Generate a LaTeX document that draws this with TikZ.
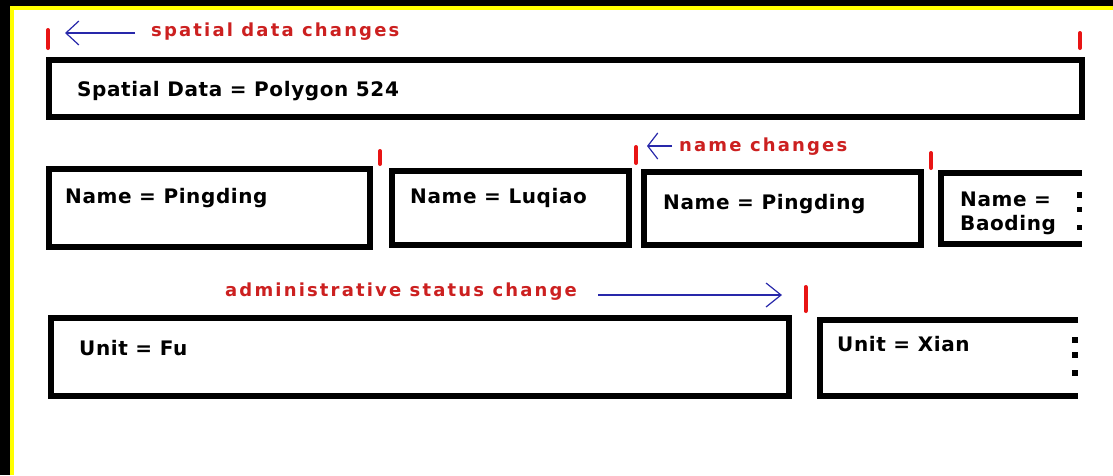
\documentclass[tikz,border=0pt]{standalone}
\usepackage{fontspec}
\setmainfont{DejaVu Sans}
\newfontfamily\blkfont[LetterSpace=3]{DejaVu Sans}
\newfontfamily\redfont[LetterSpace=12]{DejaVu Sans}
\usetikzlibrary{arrows.meta}
\definecolor{lblred}{RGB}{204,32,32}
\definecolor{tickred}{RGB}{232,20,20}
\definecolor{arrblue}{RGB}{40,40,170}
\definecolor{frameyellow}{RGB}{255,255,0}
\begin{document}
\begin{tikzpicture}[x=1pt,y=-1pt,
  boxline/.style={line width=6pt, draw=black},
  txt/.style={anchor=base west, inner sep=0pt, font=\blkfont\bfseries\fontsize{20}{24}\selectfont, text=black},
  redtxt/.style={anchor=base west, inner sep=0pt, font=\redfont\bfseries\fontsize{18}{20}\selectfont, text=lblred},
  tickmark/.style={draw=tickred, line width=4pt, line cap=round},
  blarrow/.style={draw=arrblue, line width=1.2pt},
  dotsq/.style={fill=black}
]
\useasboundingbox (0,0) rectangle (1113,475);
\fill[white] (0,0) rectangle (1113,475);
% frame
\fill[black] (0,0) rectangle (10,475);
\fill[black] (0,0) rectangle (1113,6);
\fill[frameyellow] (10,6) rectangle (14,475);
\fill[frameyellow] (10,6) rectangle (1113,10);

% boxes
\draw[boxline] (49,60) rectangle (1082,117);
\draw[boxline] (49,169) rectangle (370,247);
\draw[boxline] (392,171) rectangle (629,245);
\draw[boxline] (643.5,172) rectangle (920.5,244.5);
\draw[boxline] (1082,173) -- (940.5,173) -- (940.5,244) -- (1082,244);
\draw[boxline] (51,318) rectangle (788.5,396);
\draw[boxline] (1078,319.5) -- (819.7,319.5) -- (819.7,396) -- (1078,396);

% dots
\fill[dotsq] (1077,192) rectangle (1082,198);
\fill[dotsq] (1077,207) rectangle (1082,212);
\fill[dotsq] (1077,225) rectangle (1082,230);
\fill[dotsq] (1072,337) rectangle (1078,343);
\fill[dotsq] (1072,352) rectangle (1078,358);
\fill[dotsq] (1072,370) rectangle (1078,376);

% texts
\node[txt] (spatial) at (77,96.7) {Spatial Data = Polygon 524};
\node[txt] (name1) at (65,203.3) {Name = Pingding};
\node[txt] (name2) at (410,203) {Name = Luqiao};
\node[txt] (name3) at (663,209) {Name = Pingding};
\node[txt, anchor=north west, align=left] (name4) at (960,192) {Name =\\Baoding};
\node[txt] (unit1) at (79,355) {Unit = Fu};
\node[txt] (unit2) at (837,351.7) {Unit = Xian};

\node[redtxt] (lab1) at (151,36.7) {spatial data changes};
\node[redtxt] (lab2) at (679,151.7) {name changes};
\node[redtxt] (lab3) at (225,296.7) {administrative status change};

% ticks
\draw[tickmark] (48,30) -- (48,48);
\draw[tickmark] (1080,33) -- (1080,48);
\draw[tickmark] (380,151) -- (380,164);
\draw[tickmark] (636,147) -- (636,163);
\draw[tickmark] (931,153) -- (931,168);
\draw[tickmark] (805.5,287) -- (805.5,311);

% arrows
\coordinate (a1s) at (135,33);
\coordinate (a1e) at (65,33);
\draw[blarrow, -{Straight Barb[length=13pt,width=24pt]}] (a1s) -- (a1e);
\coordinate (a2s) at (672,146);
\coordinate (a2e) at (647,146);
\draw[blarrow, -{Straight Barb[length=10pt,width=26pt]}] (a2s) -- (a2e);
\coordinate (a3s) at (598,295);
\coordinate (a3e) at (782,295);
\draw[blarrow, -{Straight Barb[length=15pt,width=24pt]}] (a3s) -- (a3e);
\end{tikzpicture}
\end{document}
